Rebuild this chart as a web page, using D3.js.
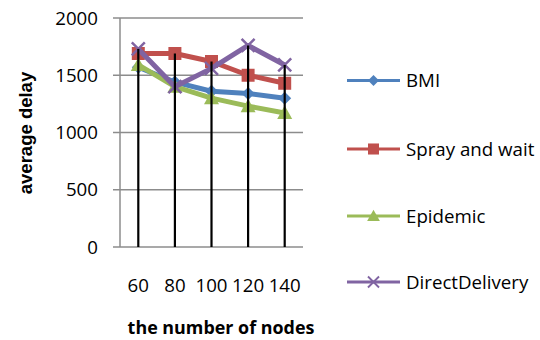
<!DOCTYPE html>
<html>
<head>
<meta charset="utf-8">
<script src="https://cdn.jsdelivr.net/npm/d3@7"></script>
<style>
  body { margin: 0; background: #fff; }
  text { font-family: "Open Sans", "Liberation Sans", sans-serif; fill: #000; }
</style>
</head>
<body>
<div id="chart"></div>
<script>
var nodes = ["60", "80", "100", "120", "140"];
var yTicks = [0, 500, 1000, 1500, 2000];
var seriesNames = ["BMI", "Spray and wait", "Epidemic", "DirectDelivery"];
var bmi = [1570, 1440, 1360, 1340, 1300];
var sprayWait = [1690, 1690, 1620, 1500, 1430];
var epidemic = [1590, 1400, 1300, 1230, 1170];
var directDelivery = [1730, 1400, 1560, 1760, 1590];

var colors = ["#4F81BD", "#C0504D", "#9BBB59", "#8064A2"];
var shapes = ["diamond", "square", "triangle", "cross"];
var series = [bmi, sprayWait, epidemic, directDelivery].map(function(v, i) {
	return {name: seriesNames[i], values: v, color: colors[i], shape: shapes[i]};
});

var W = 540, H = 340;
var margin = {top: 18, left: 120, right: 237, bottom: 93};
var width = W - margin.left - margin.right,
	height = H - margin.top - margin.bottom;

var svg = d3.select("#chart").append("svg")
	.attr("width", W).attr("height", H);

var g = svg.append("g")
	.attr("transform", "translate(" + margin.left + "," + margin.top + ")");

var x = d3.scaleBand().domain(nodes).range([0, width]);
var y = d3.scaleLinear().domain([0, 2000]).range([height, 0]);

// gridlines + little ticks left of the axis
g.selectAll(".grid").data(yTicks).enter().append("line")
	.attr("x1", -7).attr("x2", width)
	.attr("y1", function(d) { return y(d); })
	.attr("y2", function(d) { return y(d); })
	.attr("stroke", "#8c8c8c").attr("stroke-width", 1.5);

g.append("line")
	.attr("x1", 0).attr("x2", 0).attr("y1", 0).attr("y2", height)
	.attr("stroke", "#8c8c8c").attr("stroke-width", 1.5);

g.selectAll(".ylab").data(yTicks).enter().append("text")
	.attr("x", -22).attr("y", function(d) { return y(d); })
	.attr("dy", "0.36em").attr("text-anchor", "end")
	.style("font-size", "18.7px")
	.text(function(d) { return d; });

g.selectAll(".xlab").data(nodes).enter().append("text")
	.attr("x", function(d) { return x(d) + x.bandwidth() / 2; })
	.attr("y", 292 - margin.top)
	.attr("text-anchor", "middle")
	.style("font-size", "18.7px")
	.text(function(d) { return d; });

// excel-like markers
function markerPath(shape) {
	if (shape === "diamond") return "M0,-6.5L6.5,0L0,6.5L-6.5,0Z";
	if (shape === "square") return "M-6.5,-6.5H6.5V6.5H-6.5Z";
	if (shape === "triangle") return "M0,-7.5L7.5,6L-7.5,6Z";
	return "M-6.5,-6.5L6.5,6.5M6.5,-6.5L-6.5,6.5";
}

var line = d3.line()
	.x(function(d, i) { return x(nodes[i]) + x.bandwidth() / 2; })
	.y(function(d) { return y(d); });

series.forEach(function(s) {
	g.append("path")
		.attr("d", line(s.values))
		.attr("fill", "none")
		.attr("stroke", s.color)
		.attr("stroke-width", 5)
		.attr("stroke-linejoin", "round");

	g.selectAll(null).data(s.values).enter().append("path")
		.attr("transform", function(d, i) {
			return "translate(" + (x(nodes[i]) + x.bandwidth() / 2) + "," + y(d) + ")";
		})
		.attr("d", markerPath(s.shape))
		.attr("fill", s.shape === "cross" ? "none" : s.color)
		.attr("stroke", s.color)
		.attr("stroke-width", s.shape === "cross" ? 2.5 : 0);
});

// drop lines from highest point in each category
g.selectAll(".drop").data(nodes).enter().append("line")
	.attr("x1", function(d) { return x(d) + x.bandwidth() / 2; })
	.attr("x2", function(d) { return x(d) + x.bandwidth() / 2; })
	.attr("y1", function(d, i) { return y(d3.max(series, function(s) { return s.values[i]; })); })
	.attr("y2", height)
	.attr("stroke", "#000").attr("stroke-width", 2.2);

// axis titles
svg.append("text")
	.attr("transform", "translate(32,133) rotate(-90)")
	.attr("text-anchor", "middle")
	.style("font-family", "'Liberation Sans', Arial, sans-serif")
	.style("font-size", "18.5px").style("font-weight", "bold")
	.text("average delay");

svg.append("text")
	.attr("x", 221).attr("y", 334)
	.attr("text-anchor", "middle")
	.style("font-size", "17.9px").style("font-weight", "bold")
	.text("the number of nodes");

// legend
var legend = svg.append("g").attr("transform", "translate(347,0)");
var rowY = [80.5, 149, 216, 282];
series.forEach(function(s, i) {
	var row = legend.append("g").attr("transform", "translate(0," + rowY[i] + ")");
	row.append("line").attr("x1", 0).attr("x2", 53)
		.attr("stroke", s.color).attr("stroke-width", 3);
	row.append("path").attr("transform", "translate(26.5,0) scale(0.85)")
		.attr("d", markerPath(s.shape))
		.attr("fill", s.shape === "cross" ? "none" : s.color)
		.attr("stroke", s.color)
		.attr("stroke-width", s.shape === "cross" ? 2.2 : 0);
	row.append("text").attr("x", 59).attr("dy", "0.36em")
		.style("font-size", "18.7px")
		.text(s.name);
});
</script>
</body>
</html>
